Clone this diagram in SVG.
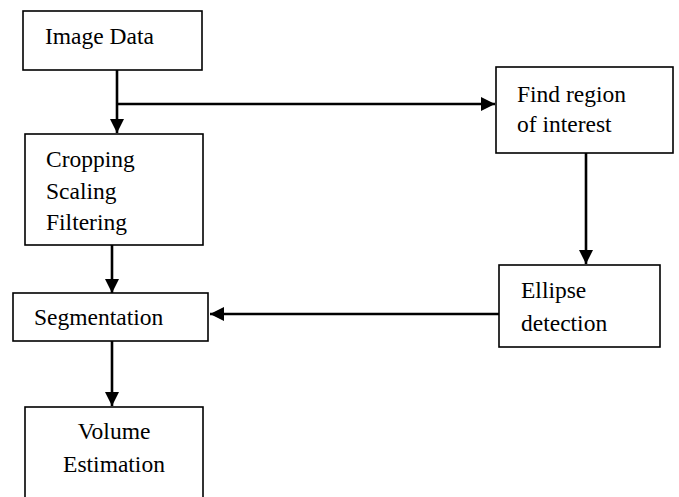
<svg xmlns="http://www.w3.org/2000/svg" width="679" height="497" viewBox="0 0 679 497">
<style>
.box{fill:#fff;stroke:#000;stroke-width:1.6}
.edge{fill:none;stroke:#000;stroke-width:2.6}
</style>
<defs>
<marker id="arr" markerWidth="14" markerHeight="14" refX="14" refY="7" orient="auto" markerUnits="userSpaceOnUse" viewBox="0 0 14 14">
<path d="M0,0 L14,7 L0,14 Z" fill="#000"/>
</marker>
</defs>
<rect width="679" height="497" fill="#fff"/>
<g id="connectors">
<line class="edge" x1="117" y1="70" x2="117" y2="133" marker-end="url(#arr)"/>
<line class="edge" x1="117" y1="104" x2="495" y2="104" marker-end="url(#arr)"/>
<line class="edge" x1="586" y1="153" x2="586" y2="264" marker-end="url(#arr)"/>
<line class="edge" x1="499" y1="314" x2="210" y2="314" marker-end="url(#arr)"/>
<line class="edge" x1="112" y1="245" x2="112" y2="293" marker-end="url(#arr)"/>
<line class="edge" x1="112" y1="341" x2="112" y2="406" marker-end="url(#arr)"/>
</g>
<g font-family="Liberation Serif, Times New Roman, DejaVu Serif, serif" font-size="23.5" fill="#000">
<g id="image-data">
<rect class="box" x="23" y="11" width="179" height="59"/>
<text x="45" y="44">Image Data</text>
</g>
<g id="cropping">
<rect class="box" x="25" y="134" width="178" height="111"/>
<text x="46" y="167">Cropping</text>
<text x="46" y="199">Scaling</text>
<text x="46" y="230">Filtering</text>
</g>
<g id="find-region">
<rect class="box" x="496" y="67" width="177" height="86"/>
<text x="517" y="102">Find region</text>
<text x="517" y="132">of interest</text>
</g>
<g id="ellipse">
<rect class="box" x="499" y="265" width="161" height="82"/>
<text x="521" y="298">Ellipse</text>
<text x="521" y="331">detection</text>
</g>
<g id="segmentation">
<rect class="box" x="13" y="293" width="195" height="48"/>
<text x="34" y="325">Segmentation</text>
</g>
<g id="volume">
<rect class="box" x="25" y="407" width="178" height="110"/>
<text x="114" y="439" text-anchor="middle">Volume</text>
<text x="114" y="472" text-anchor="middle">Estimation</text>
</g>
</g>
</svg>
